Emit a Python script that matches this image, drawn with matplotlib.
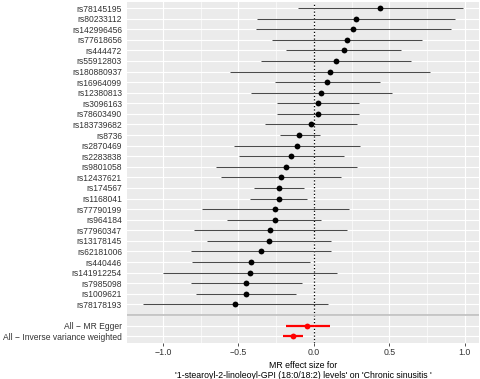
import matplotlib

matplotlib.use("Agg")
import matplotlib.pyplot as plt
import numpy as np

plt.rcParams["font.family"] = ["Liberation Sans", "DejaVu Sans"]

# SNP-level estimates, top to bottom as drawn
snps = [
    "rs78145195", "rs80233112", "rs142996456", "rs77618656", "rs444472",
    "rs55912803", "rs180880937", "rs16964099", "rs12380813", "rs3096163",
    "rs78603490", "rs183739682", "rs8736", "rs2870469", "rs2283838",
    "rs9801058", "rs12437621", "rs174567", "rs1168041", "rs77790199",
    "rs964184", "rs77960347", "rs13178145", "rs62181006", "rs440446",
    "rs141912254", "rs7985098", "rs1009621", "rs78178193",
]
snp_b = [
    0.441, 0.280, 0.263, 0.219, 0.199, 0.148, 0.106, 0.088, 0.051, 0.029,
    0.026, -0.020, -0.095, -0.110, -0.148, -0.181, -0.219, -0.232, -0.232, -0.254,
    -0.260, -0.287, -0.298, -0.349, -0.417, -0.422, -0.448, -0.450, -0.521,
]
snp_lo = [
    -0.106, -0.375, -0.384, -0.280, -0.181, -0.347, -0.558, -0.260, -0.417, -0.245,
    -0.247, -0.325, -0.227, -0.530, -0.497, -0.645, -0.618, -0.393, -0.424, -0.744,
    -0.572, -0.795, -0.709, -0.815, -0.810, -1.000, -0.817, -0.781, -1.132,
]
snp_up = [
    0.989, 0.936, 0.909, 0.720, 0.576, 0.645, 0.773, 0.439, 0.519, 0.302,
    0.300, 0.285, 0.042, 0.309, 0.201, 0.287, 0.181, -0.068, -0.042, 0.234,
    0.051, 0.221, 0.115, 0.115, -0.026, 0.157, -0.077, -0.119, 0.095,
]

# combined estimates, top to bottom
methods = ["All - MR Egger", "All - Inverse variance weighted"]
method_b = [-0.042, -0.137]
method_lo = [-0.185, -0.203]
method_up = [0.106, -0.071]

exposure = "1-stearoyl-2-linoleoyl-GPI (18:0/18:2) levels"
outcome = "Chronic sinusitis "

labels = snps + [""] + [m.replace("-", "\u2212") for m in methods]
n = len(labels)
ypos = np.arange(n, 0, -1)
y_snp = ypos[: len(snps)]
y_sep = ypos[len(snps)]
y_all = ypos[len(snps) + 1:]

fig = plt.figure(figsize=(4.81, 3.79), dpi=100)
ax = fig.add_axes([127 / 481, 1 - 342.5 / 379, 352 / 481, 340.8 / 379])
ax.set_facecolor("#EBEBEB")
for s in ax.spines.values():
    s.set_visible(False)

# grid lines like ggplot theme_grey
for yv in ypos:
    ax.axhline(yv, color="white", lw=0.85, zorder=0)
for xv in [-1.0, -0.5, 0.0, 0.5, 1.0]:
    ax.axvline(xv, color="white", lw=0.85, zorder=0)
for xv in [-1.25, -0.75, -0.25, 0.25, 0.75]:
    ax.axvline(xv, color="white", lw=0.45, zorder=0)

ax.axvline(0, color="black", lw=0.9, linestyle=(0, (1, 1.7)), zorder=1)
ax.axhline(y_sep, color="#BEBEBE", lw=1.2, zorder=1)

ax.hlines(y_snp, snp_lo, snp_up, color="#4a4a4a", lw=0.75, zorder=2)
ax.plot(snp_b, y_snp, "o", color="black", ms=4.2, mew=0, zorder=3)
ax.hlines(y_all, method_lo, method_up, color="red", lw=1.6, zorder=2)
ax.plot(method_b, y_all, "o", color="red", ms=4.2, mew=0, zorder=3)

lo_all = min(snp_lo + method_lo)
up_all = max(snp_up + method_up)
pad = 0.05 * (up_all - lo_all)
ax.set_xlim(lo_all - pad, up_all + pad)
ax.set_ylim(0.4, n + 0.6)

ax.set_xticks([-1.0, -0.5, 0.0, 0.5, 1.0])
ax.set_xticklabels(["\u22121.0", "\u22120.5", "0.0", "0.5", "1.0"])
ax.set_yticks(ypos)
ax.set_yticklabels(labels)
ax.tick_params(axis="x", length=2.2, width=0.6, color="#333333", pad=1.5,
               labelsize=6.3, labelcolor="#333333")
ax.tick_params(axis="y", length=0, pad=3.6, labelsize=6.15, labelcolor="#333333")

ax.set_xlabel(f"MR effect size for\n'{exposure}' on '{outcome}'",
              fontsize=6.3, color="black", labelpad=3, linespacing=1.15)

fig.savefig("out.png", dpi=100)
